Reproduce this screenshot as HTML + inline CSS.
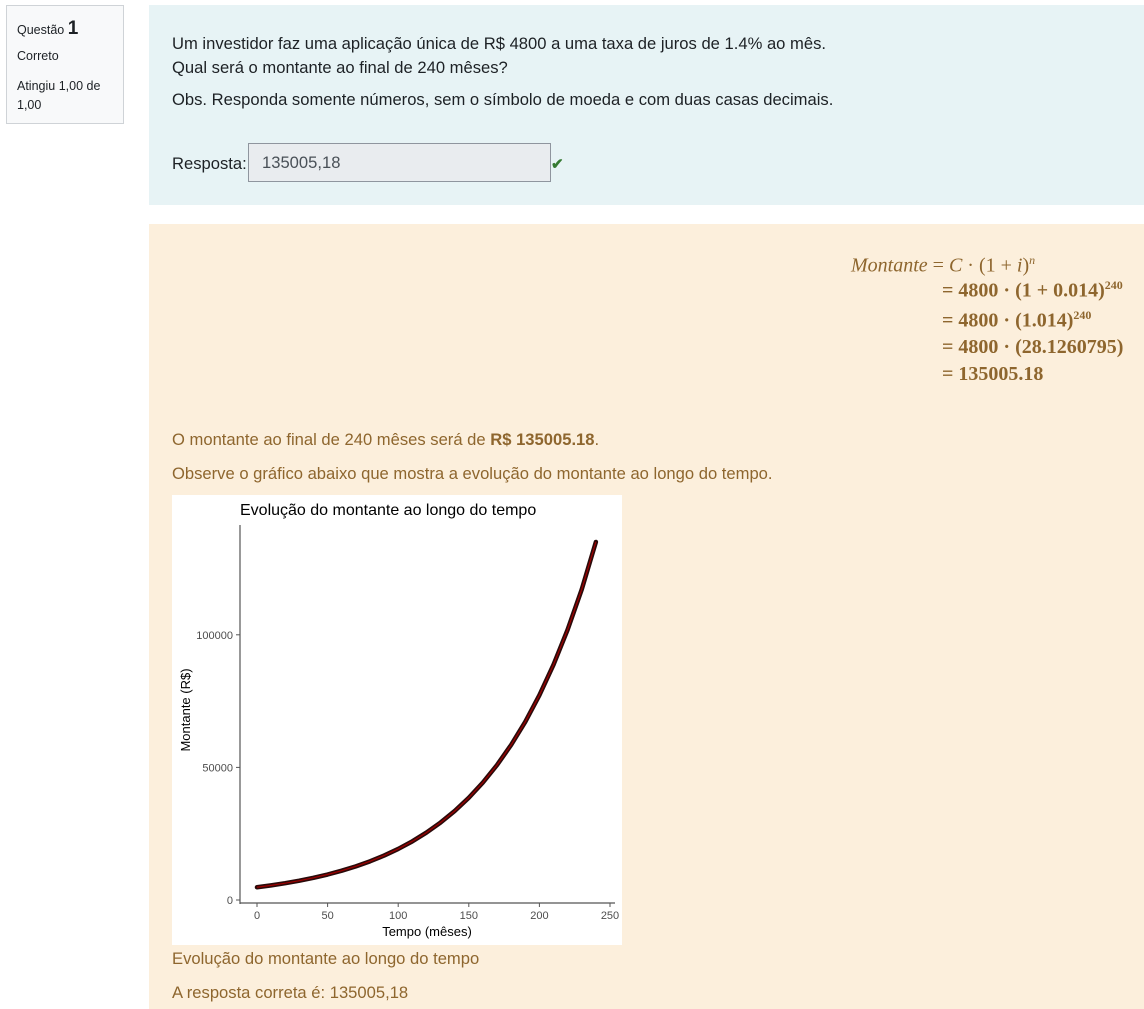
<!DOCTYPE html>
<html><head><meta charset="utf-8">
<style>
body{margin:0;width:1144px;height:1009px;background:#fff;font-family:"Liberation Sans",sans-serif;position:relative;overflow:hidden}
.abs{position:absolute}
#info{left:6px;top:5px;width:118px;height:119px;background:#f8f9fa;border:1px solid #cfd3d7;box-sizing:border-box;font-size:12.5px;color:#1d2125}
#qbox{left:149px;top:5px;width:995px;height:200px;background:#e7f3f5}
#fb{left:149px;top:224px;width:995px;height:785px;background:#fcefdc}
.qt{font-size:16.6px;color:#1d2125;white-space:nowrap}
.ft{font-size:16.6px;color:#8e662e;white-space:nowrap}
.m{font-family:"Liberation Serif",serif;font-size:20px;color:#8e662e;white-space:nowrap}
</style></head><body>
<div id="info" class="abs">
 <div class="abs" style="left:10px;top:12px">Questão <b style="font-size:19px">1</b></div>
 <div class="abs" style="left:10px;top:43px">Correto</div>
 <div class="abs" style="left:10px;top:71px;line-height:19px;width:100px">Atingiu 1,00 de 1,00</div>
</div>
<div id="qbox" class="abs">
 <div class="abs qt" style="left:23px;top:27px;line-height:24px">Um investidor faz uma aplicação única de R$ 4800 a uma taxa de juros de 1.4% ao mês.<br>Qual será o montante ao final de 240 mêses?</div>
 <div class="abs qt" style="left:23px;top:85px">Obs. Responda somente números, sem o símbolo de moeda e com duas casas decimais.</div>
 <div class="abs qt" style="left:23px;top:149px">Resposta:</div>
 <div class="abs qt" style="left:99px;top:138px;width:303px;height:39px;background:#e9ecef;border:1px solid #8f959e;box-sizing:border-box;padding:9px 13px;color:#495057">135005,18</div>
 <div class="abs" style="left:402px;top:150px;color:#357a32;font-size:15px;font-weight:bold">✔</div>
</div>
<div id="fb" class="abs">
 <div class="abs m" style="left:702px;top:29px"><i>Montante</i> = <i>C</i> · (1 + <i>i</i>)<sup style="font-size:12px"><i>n</i></sup></div>
 <div class="abs m" style="left:793px;top:54px;font-weight:bold">= 4800 · (1 + 0.014)<sup style="font-size:12px">240</sup></div>
 <div class="abs m" style="left:793px;top:84px;font-weight:bold">= 4800 · (1.014)<sup style="font-size:12px">240</sup></div>
 <div class="abs m" style="left:793px;top:112px;font-weight:bold">= 4800 · (28.1260795)</div>
 <div class="abs m" style="left:793px;top:139px;font-weight:bold">= 135005.18</div>
 <div class="abs ft" style="left:23px;top:206px">O montante ao final de 240 mêses será de <b>R$ 135005.18</b>.</div>
 <div class="abs ft" style="left:23px;top:240px">Observe o gráfico abaixo que mostra a evolução do montante ao longo do tempo.</div>
 <div class="abs ft" style="left:23px;top:725px">Evolução do montante ao longo do tempo</div>
 <div class="abs ft" style="left:23px;top:759px">A resposta correta é: 135005,18</div>
</div>
<svg class="abs" id="chart" style="left:172px;top:495px" width="450" height="450"></svg>
<script>
const months=[0,10,20,30,40,50,60,70,80,90,100,110,120,130,140,150,160,170,180,190,200,210,220,230,240];
const values=[4800,5515,6337,7281,8366,9613,11045,12691,14582,16755,19252,22121,25417,29205,33557,38557,44303,50905,58490,67206,77221,88728,101949,117141,135005];
const xTicks=[0,50,100,150,200,250];
const yTicks=[0,50000,100000];
const NS="http://www.w3.org/2000/svg";
const svg=document.getElementById('chart');
const X=v=>85+v*1.412;
const Y=v=>405-v*0.002652;
function mk(t,a,txt){const e=document.createElementNS(NS,t);for(const k in a)e.setAttribute(k,a[k]);if(txt!==undefined)e.textContent=txt;svg.appendChild(e);return e;}
let r=mk('rect',{x:0,y:0,width:450,height:450,fill:'#fff'});


let t=mk('text',{x:68,y:20,'font-size':16,fill:'#000','font-family':'Liberation Sans'},'Evolução do montante ao longo do tempo');


let ya=mk('line',{x1:68,y1:30,x2:68,y2:409,stroke:'#555','stroke-width':1.2});


let xa=mk('line',{x1:68,y1:408,x2:443,y2:408,stroke:'#555','stroke-width':1.2});


xTicks.forEach(v=>{
 let l=mk('line',{x1:X(v),y1:408,x2:X(v),y2:412,stroke:'#555'});
 
 
 let tx=mk('text',{x:X(v),y:424,'font-size':11,fill:'#4d4d4d','text-anchor':'middle'},String(v));
 
 
});
yTicks.forEach(v=>{
 let l=mk('line',{x1:64,y1:Y(v),x2:68,y2:Y(v),stroke:'#555'});
 
 
 let tx=mk('text',{x:61,y:Y(v)+4,'font-size':11,fill:'#4d4d4d','text-anchor':'end'},String(v));
 
 
});
let xt=mk('text',{x:255,y:441,'font-size':13,fill:'#000','text-anchor':'middle'},'Tempo (mêses)');


let yt=mk('text',{x:0,y:0,'font-size':13,fill:'#000','text-anchor':'middle',transform:'translate(18,215) rotate(-90)'},'Montante (R$)');


const pts=months.map((m,i)=>X(m)+','+Y(values[i])).join(' ');
let p1=mk('polyline',{points:pts,fill:'none',stroke:'#2a0a0a','stroke-width':4.5,'stroke-linejoin':'round','stroke-linecap':'round'});


let p2=mk('polyline',{points:pts,fill:'none',stroke:'#a00000','stroke-width':1.2});


</script>
</body></html>
